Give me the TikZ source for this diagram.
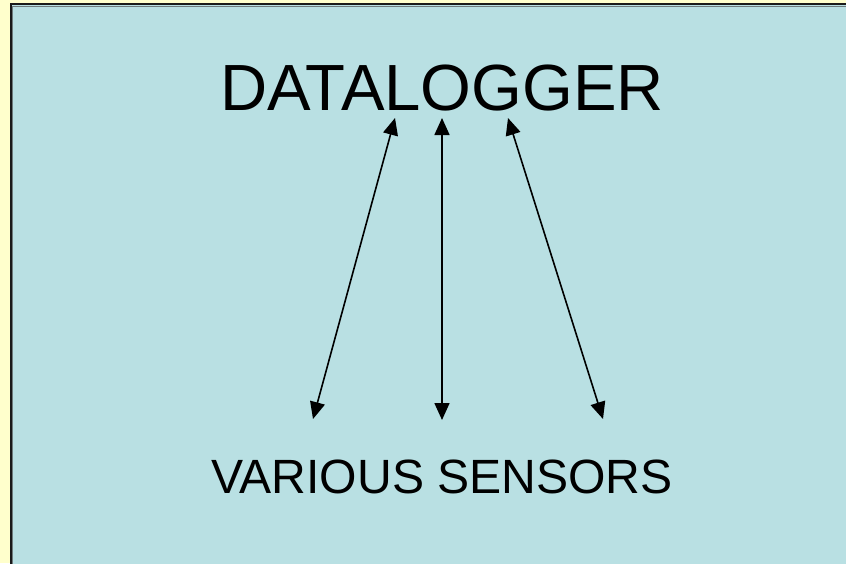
\documentclass[tikz,border=0pt]{standalone}
\usepackage{fontspec}
\setmainfont{Liberation Sans}
\usetikzlibrary{arrows.meta}
\definecolor{pagebg}{HTML}{FFFFCC}
\definecolor{panel}{HTML}{B9E0E3}
\definecolor{rim}{HTML}{1A1A1A}
\definecolor{rimshade}{HTML}{6E7B7C}
\tikzset{
  label text/.style={inner sep=0pt, anchor=center, text=black},
  link/.style={line width=1.6pt, {Triangle[length=17pt,width=15pt]}-{Triangle[length=17pt,width=15pt]}}
}
\begin{document}
\begin{tikzpicture}[x=1pt,y=-1pt]
  \useasboundingbox (0,0) rectangle (846,563);
  \fill[pagebg] (0,0) rectangle (846,563);
  % slide panel with its dark rim
  \fill[panel] (10,3) rectangle (870,590);
  \draw[rim, line width=2.2pt] (10.6,4.1) rectangle (870,590);
  \draw[rimshade, line width=0.8pt] (12.6,6.1) rectangle (870,590);

  \node[label text, font=\fontsize{65.3}{65.3}\selectfont] (logger) at (442,88) {DATALOGGER};
  \node[label text, font=\fontsize{48.1}{48.1}\selectfont] (sensors) at (442,477) {VARIOUS SENSORS};

  \coordinate (t1) at (395,118);
  \coordinate (t2) at (442,118);
  \coordinate (t3) at (508,118);
  \coordinate (b1) at (313,419);
  \coordinate (b2) at (442,420);
  \coordinate (b3) at (603,419);

  \draw[link] (t1) -- (b1);
  \draw[link] (t2) -- (b2);
  \draw[link] (t3) -- (b3);
\end{tikzpicture}
\end{document}
